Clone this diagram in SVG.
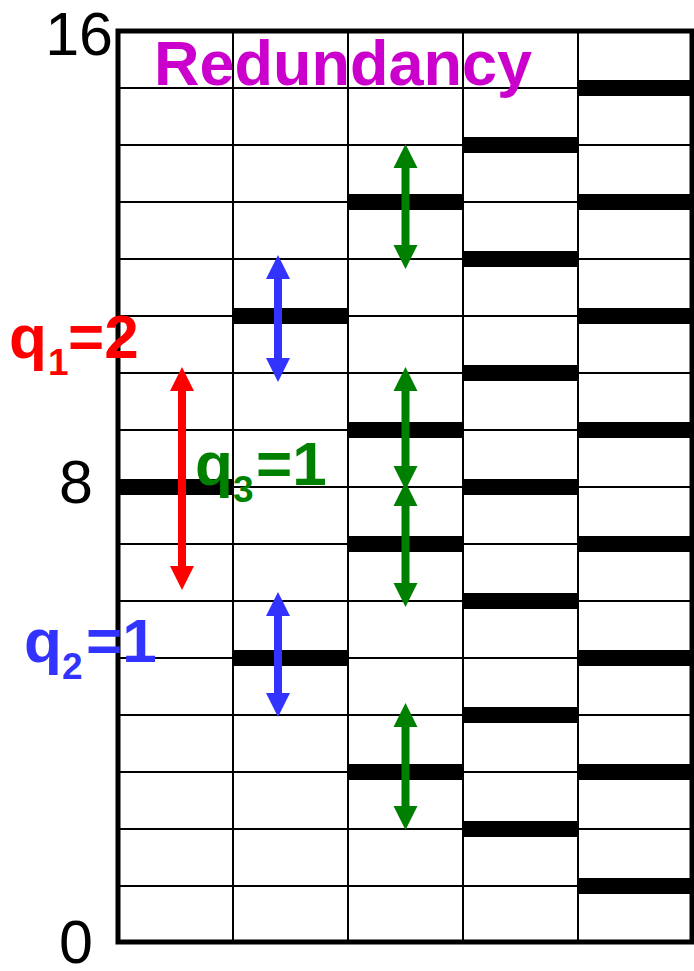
<svg xmlns="http://www.w3.org/2000/svg" width="694" height="971" viewBox="0 0 694 971">
<style>
.grid{stroke:#000;stroke-width:2;fill:none}
.frame{stroke:#000;stroke-width:5;fill:none}
.bar{fill:#000}
.num{font-family:"Liberation Sans",Arial,sans-serif;font-size:61px;fill:#000}
.lbl{font-family:"Liberation Sans",Arial,sans-serif;font-weight:bold}
.big{font-size:62px}
.sub{font-size:37px}
.red{fill:#ff0000}
.blue{fill:#3333ff}
.green{fill:#008000}
</style>
<rect width="694" height="971" fill="#fff"/>
<g id="grid">
<path class="grid" d="M118 88H692M118 145H692M118 202H692M118 259H692M118 316H692M118 373H692M118 430H692M118 487H692M118 544H692M118 601H692M118 658H692M118 715H692M118 772H692M118 829H692M118 886H692"/>
<path class="grid" d="M233 31V942M348 31V942M463 31V942M578 31V942"/>
</g>
<g id="bars">
<rect class="bar" x="118" y="479" width="115" height="16"/>
<rect class="bar" x="233" y="308" width="115" height="16"/>
<rect class="bar" x="233" y="650" width="115" height="16"/>
<rect class="bar" x="348" y="194" width="115" height="16"/>
<rect class="bar" x="348" y="422" width="115" height="16"/>
<rect class="bar" x="348" y="536" width="115" height="16"/>
<rect class="bar" x="348" y="764" width="115" height="16"/>
<rect class="bar" x="463" y="137" width="115" height="16"/>
<rect class="bar" x="463" y="251" width="115" height="16"/>
<rect class="bar" x="463" y="365" width="115" height="16"/>
<rect class="bar" x="463" y="479" width="115" height="16"/>
<rect class="bar" x="463" y="593" width="115" height="16"/>
<rect class="bar" x="463" y="707" width="115" height="16"/>
<rect class="bar" x="463" y="821" width="115" height="16"/>
<rect class="bar" x="578" y="80" width="114" height="16"/>
<rect class="bar" x="578" y="194" width="114" height="16"/>
<rect class="bar" x="578" y="308" width="114" height="16"/>
<rect class="bar" x="578" y="422" width="114" height="16"/>
<rect class="bar" x="578" y="536" width="114" height="16"/>
<rect class="bar" x="578" y="650" width="114" height="16"/>
<rect class="bar" x="578" y="764" width="114" height="16"/>
<rect class="bar" x="578" y="878" width="114" height="16"/>
</g>
<rect id="frame" class="frame" x="118" y="31" width="574" height="911"/>
<g id="axis">
<text class="num" x="113" y="55" text-anchor="end">16</text>
<text class="num" x="93" y="503" text-anchor="end">8</text>
<text class="num" x="93" y="963" text-anchor="end">0</text>
</g>
<text id="title" class="lbl" x="154" y="85" font-size="63" fill="#cc00cc">Redundancy</text>
<g id="connectors">
<polygon class="red" points="182,367 194,391 186,391 186,566 194,566 182,590 170,566 178,566 178,391 170,391"/>
<polygon class="blue" points="278,255 290,279 282,279 282,358 290,358 278,382 266,358 274,358 274,279 266,279"/>
<polygon class="blue" points="278,592 290,616 282,616 282,693 290,693 278,717 266,693 274,693 274,616 266,616"/>
<polygon class="green" points="405.5,144 417.5,168 409.5,168 409.5,245 417.5,245 405.5,269 393.5,245 401.5,245 401.5,168 393.5,168"/>
<polygon class="green" points="405.5,367 417.5,391 409.5,391 409.5,466 417.5,466 405.5,490 393.5,466 401.5,466 401.5,391 393.5,391"/>
<polygon class="green" points="405.5,482 417.5,506 409.5,506 409.5,583 417.5,583 405.5,607 393.5,583 401.5,583 401.5,506 393.5,506"/>
<polygon class="green" points="405.5,703 417.5,727 409.5,727 409.5,806 417.5,806 405.5,830 393.5,806 401.5,806 401.5,727 393.5,727"/>
</g>
<g id="q1" class="lbl red">
<text class="big" x="9" y="358">q</text>
<text class="sub" x="48" y="375">1</text>
<text class="big" x="68" y="358">=2</text>
</g>
<g id="q3" class="lbl green">
<text class="big" x="195" y="485">q</text>
<text class="sub" x="233" y="502">3</text>
<text class="big" x="256" y="485">=1</text>
</g>
<g id="q2" class="lbl blue">
<text class="big" x="24" y="662">q</text>
<text class="sub" x="62" y="679">2</text>
<text class="big" x="86" y="662">=1</text>
</g>
</svg>
